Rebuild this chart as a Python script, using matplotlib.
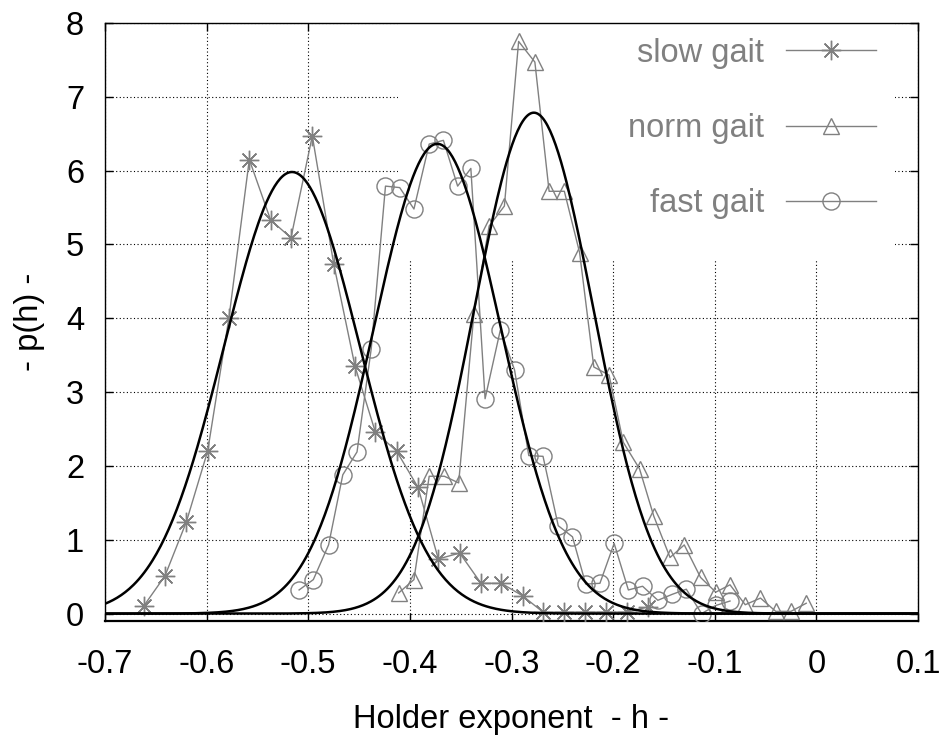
import numpy as np
import matplotlib
matplotlib.use("Agg")
import matplotlib.pyplot as plt
from matplotlib.patches import Rectangle
from matplotlib.lines import Line2D

plt.rcParams["font.family"] = ["Liberation Sans", "DejaVu Sans"]
plt.rcParams["axes.unicode_minus"] = False

# histogram points
slow_h = [-0.662, -0.641, -0.620, -0.599, -0.578, -0.558, -0.537, -0.517, -0.496,
          -0.475, -0.454, -0.434, -0.413, -0.392, -0.372, -0.351, -0.330, -0.310,
          -0.289, -0.269, -0.248, -0.228, -0.207, -0.186, -0.166]
slow_p = [0.10, 0.51, 1.24, 2.20, 4.01, 6.15, 5.33, 5.09, 6.47,
          4.74, 3.35, 2.46, 2.20, 1.71, 0.74, 0.82, 0.41, 0.41,
          0.24, 0.02, 0.02, 0.02, 0.02, 0.02, 0.09]

norm_h = [-0.411, -0.396, -0.381, -0.366, -0.352, -0.337, -0.322, -0.307, -0.293,
          -0.277, -0.263, -0.248, -0.233, -0.219, -0.204, -0.190, -0.174, -0.160,
          -0.144, -0.130, -0.114, -0.099, -0.085, -0.070, -0.055, -0.040, -0.025,
          -0.010]
norm_p = [0.28, 0.46, 1.86, 1.86, 1.77, 4.06, 5.25, 5.52, 7.75,
          7.47, 5.72, 5.72, 4.89, 3.34, 3.23, 2.32, 1.96, 1.32,
          0.76, 0.93, 0.49, 0.29, 0.39, 0.12, 0.21, 0.03, 0.03,
          0.14]

fast_h = [-0.509, -0.495, -0.480, -0.466, -0.452, -0.438, -0.424, -0.410, -0.396,
          -0.381, -0.367, -0.353, -0.340, -0.326, -0.311, -0.297, -0.283, -0.269,
          -0.254, -0.240, -0.227, -0.213, -0.199, -0.185, -0.171, -0.156, -0.142,
          -0.128, -0.113, -0.099, -0.085]
fast_p = [0.32, 0.46, 0.93, 1.88, 2.19, 3.59, 5.79, 5.77, 5.48,
          6.36, 6.41, 5.79, 6.03, 2.91, 3.84, 3.30, 2.14, 2.13,
          1.19, 1.04, 0.40, 0.41, 0.95, 0.32, 0.37, 0.18, 0.26,
          0.33, 0.0, 0.11, 0.17]

# gaussian fits (mean, std)
fit_mu = [-0.516, -0.373, -0.278]
fit_sigma = [0.0667, 0.0627, 0.0588]

x_ticks = [-0.7, -0.6, -0.5, -0.4, -0.3, -0.2, -0.1, 0.0, 0.1]
x_ticklabels = ["-0.7", "-0.6", "-0.5", "-0.4", "-0.3", "-0.2", "-0.1", "0", "0.1"]
y_ticks = [0, 1, 2, 3, 4, 5, 6, 7, 8]

GREY = "#808080"
FS = 23.5

fig = plt.figure(figsize=(9.4, 7.36), dpi=100)
ax = fig.add_axes([0.1117, 0.1563, 0.8649, 0.8125])
ax.set_xlim(-0.7, 0.1)
ax.set_ylim(-0.1, 8)
ax.set_axisbelow(True)

ax.grid(True, color="black", linestyle=(0, (1, 2.2)), linewidth=0.8)
# the key area hides the grid behind it
ax.add_patch(Rectangle((-0.412, 4.79), 0.489, 3.3, facecolor="white",
                       edgecolor="none", zorder=1.5))

mk = dict(color=GREY, linewidth=1.0, markerfacecolor="none",
          markeredgecolor=GREY, markeredgewidth=1.0, zorder=3)
ax.plot(slow_h, slow_p, marker=(8, 2, 0), markersize=14, **mk)
ax.plot(norm_h, norm_p, marker="^", markersize=12, **mk)
ax.plot(fast_h, fast_p, marker="o", markersize=12.3, **mk)

xs = np.linspace(-0.7, 0.1, 600)
for mu, sg in zip(fit_mu, fit_sigma):
    ys = np.exp(-0.5 * ((xs - mu) / sg) ** 2) / (sg * np.sqrt(2 * np.pi))
    ax.plot(xs, ys, color="black", linewidth=1.8, zorder=4)

ax.set_xticks(x_ticks)
ax.set_xticklabels(x_ticklabels)
ax.set_yticks(y_ticks)
ax.tick_params(axis="both", direction="in", length=6, width=1,
               top=True, right=True, labelsize=FS)
ax.tick_params(axis="x", pad=20)
ax.tick_params(axis="y", pad=15)
for s in ax.spines.values():
    s.set_linewidth(1.0)
ax.spines["bottom"].set_linewidth(1.6)

fig.text(0.5436, 0.011, "Holder exponent  - h -", ha="center", va="baseline",
         fontsize=FS)
fig.text(0.031, 0.5625, "- p(h) -", ha="center", va="center", rotation=90,
         fontsize=FS)

handles = [
    Line2D([], [], marker=(8, 2, 0), markersize=14, **mk),
    Line2D([], [], marker="^", markersize=12, **mk),
    Line2D([], [], marker="o", markersize=12.3, **mk),
]
ax.legend(handles, ["slow gait", "norm gait", "fast gait"],
          loc="upper right", bbox_to_anchor=(0.948, 0.975),
          markerfirst=False, frameon=False, labelcolor=GREY, fontsize=FS,
          handlelength=2.75, handletextpad=0.67, labelspacing=1.35,
          borderpad=0, borderaxespad=0)

fig.savefig("out.png", dpi=100)
